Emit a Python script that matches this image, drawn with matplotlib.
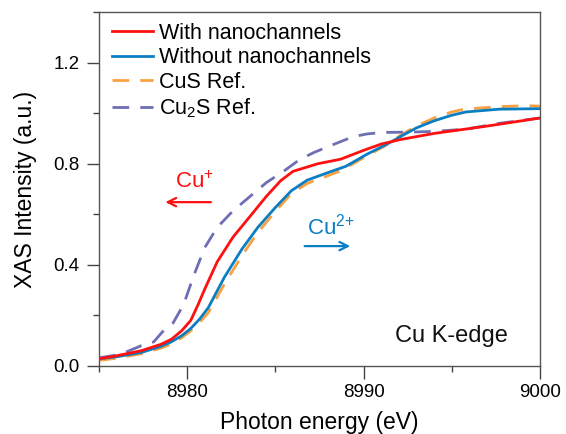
import matplotlib.pyplot as plt
from matplotlib.ticker import MultipleLocator

# XAS spectra at the Cu K-edge (photon energy in eV, normalised intensity)
e_with = [8975.0, 8976.0, 8977.4, 8978.5, 8979.1, 8979.7, 8980.2, 8980.6, 8981.0,
          8981.7, 8982.6, 8983.6, 8984.5, 8985.3, 8986.0, 8986.8, 8987.4, 8988.7,
          8990.0, 8991.0, 8992.1, 8994.0, 8996.8, 8998.5, 9000.0]
i_with = [0.028, 0.040, 0.060, 0.085, 0.105, 0.140, 0.180, 0.240, 0.305,
          0.412, 0.510, 0.595, 0.672, 0.733, 0.770, 0.787, 0.800, 0.818,
          0.853, 0.878, 0.896, 0.920, 0.947, 0.965, 0.981]

e_without = [8975.0, 8976.0, 8977.4, 8978.5, 8979.1, 8979.7, 8980.2, 8980.7, 8981.2,
             8982.1, 8983.1, 8984.0, 8985.0, 8985.9, 8986.8, 8988.1, 8989.0, 8990.2,
             8991.5, 8992.1, 8993.0, 8994.0, 8995.0, 8995.8, 8997.7, 9000.0]
i_without = [0.028, 0.036, 0.053, 0.077, 0.095, 0.120, 0.148, 0.185, 0.231,
             0.350, 0.462, 0.548, 0.627, 0.693, 0.735, 0.768, 0.790, 0.838,
             0.884, 0.908, 0.942, 0.970, 0.992, 1.005, 1.016, 1.018]

e_cus = [8975.0, 8976.0, 8977.4, 8978.5, 8979.1, 8979.7, 8980.2, 8980.7, 8981.2,
         8982.1, 8983.1, 8984.0, 8985.0, 8985.9, 8986.8, 8987.5, 8988.7, 8990.2,
         8991.2, 8992.1, 8993.0, 8994.0, 8995.0, 8995.7, 8997.7, 8999.2, 9000.0]
i_cus = [0.022, 0.030, 0.048, 0.070, 0.086, 0.112, 0.139, 0.172, 0.211,
         0.323, 0.436, 0.528, 0.611, 0.682, 0.722, 0.740, 0.772, 0.832,
         0.870, 0.913, 0.950, 0.981, 1.005, 1.016, 1.026, 1.030, 1.028]

e_cu2s = [8975.0, 8976.2, 8977.4, 8978.1, 8978.6, 8979.2, 8979.8, 8980.4, 8981.0,
          8981.7, 8982.6, 8983.6, 8984.5, 8985.5, 8986.4, 8987.2, 8988.1, 8989.4,
          8990.2, 8991.1, 8992.5, 8994.0, 8995.8, 8997.7, 9000.0]
i_cu2s = [0.032, 0.045, 0.080, 0.095, 0.135, 0.170, 0.244, 0.363, 0.469,
          0.548, 0.614, 0.673, 0.726, 0.772, 0.818, 0.845, 0.871, 0.907,
          0.918, 0.924, 0.925, 0.928, 0.937, 0.960, 0.981]

plt.rcParams.update({
    "font.family": ["Liberation Sans", "DejaVu Sans"],
    "mathtext.fontset": "custom",
    "mathtext.rm": "Liberation Sans",
    "mathtext.it": "Liberation Sans",
})

red = "#FF1010"
blue = "#0A7EC2"

fig = plt.figure(figsize=(5.66, 4.34), dpi=100)
ax = fig.add_axes([0.175, 0.157, 0.779, 0.815])

ax.plot(e_with, i_with, color=red, lw=2.0, label="With nanochannels", zorder=4)
ax.plot(e_without, i_without, color=blue, lw=2.0, label="Without nanochannels", zorder=3)
ax.plot(e_cus, i_cus, color="#F9A040", lw=2.0, dashes=(6, 4), label="CuS Ref.", zorder=2)
ax.plot(e_cu2s, i_cu2s, color="#6E6EB4", lw=2.0, dashes=(6, 4), label="Cu$_2$S Ref.", zorder=2)

# oxidation-state shift markers
arrow = "->,head_length=0.6,head_width=0.3"
ax.text(8980.4, 0.725, "Cu$^{+}$", color=red, fontsize=16, ha="center", va="center")
ax.annotate("", xy=(8978.6, 0.648), xytext=(8981.5, 0.648),
            arrowprops=dict(arrowstyle=arrow, color=red, lw=1.6))
ax.text(8988.15, 0.553, "Cu$^{2{+}}$", color=blue, fontsize=16, ha="center", va="center")
ax.annotate("", xy=(8989.4, 0.474), xytext=(8986.5, 0.474),
            arrowprops=dict(arrowstyle=arrow, color=blue, lw=1.6))
ax.text(8995.0, 0.117, "Cu K-edge", fontsize=17, ha="center", va="center", color="#111111")

ax.set_xlim(8975, 9000)
ax.set_ylim(0, 1.4)
ax.xaxis.set_minor_locator(MultipleLocator(5))
ax.yaxis.set_minor_locator(MultipleLocator(0.2))
ax.set_xticks([8980, 8990, 9000])
ax.set_yticks([0.0, 0.4, 0.8, 1.2])
ax.set_yticklabels(["0.0", "0.4", "0.8", "1.2"])

ax.tick_params(which="major", direction="out", length=9, width=1, labelsize=13.5,
               color="#444444")
ax.tick_params(which="minor", direction="out", length=4.5, width=1, color="#444444")
ax.tick_params(axis="x", which="major", pad=4)
ax.tick_params(axis="y", which="major", pad=5)
for s in ax.spines.values():
    s.set_color("#555555")
    s.set_linewidth(1.0)

ax.set_xlabel("Photon energy (eV)", fontsize=16.5, labelpad=7)
ax.set_ylabel("XAS Intensity (a.u.)", fontsize=16.5, labelpad=12)

ax.legend(loc="upper left", frameon=False, fontsize=15.5, handlelength=1.9,
          handletextpad=0.3, labelspacing=0.16, borderaxespad=0.1,
          bbox_to_anchor=(0.005, 1.0))

fig.savefig("out.png", dpi=100)
